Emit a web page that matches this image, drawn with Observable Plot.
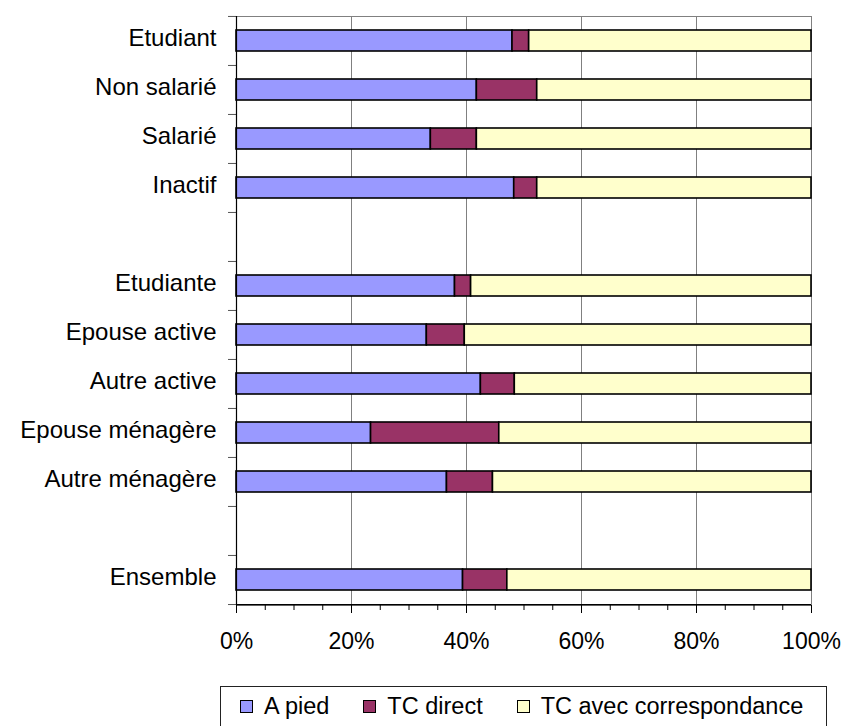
<!DOCTYPE html>
<html>
<head>
<meta charset="utf-8">
<script src="https://cdn.jsdelivr.net/npm/d3@7"></script>
<script src="https://cdn.jsdelivr.net/npm/@observablehq/plot@0.6"></script>
<style>
  html, body { margin: 0; padding: 0; background: #fff; overflow: hidden; }
  #wrap { position: relative; width: 843px; height: 726px; font-family: "Liberation Sans", Arial, sans-serif; }
  #legend {
    position: absolute; left: 220px; top: 686px; width: 607px; height: 50px;
    border: 1px solid #222; box-sizing: border-box; background: #fff;
    display: flex; flex-wrap: nowrap; align-items: center; padding-left: 19px; padding-bottom: 10px;
    font-size: 23.5px; line-height: 24px; color: #000; white-space: nowrap;
  }
  .item { display: flex; flex-shrink: 0; align-items: center; margin-right: 34px; white-space: nowrap; }
  .sw { width: 11px; height: 11px; border: 1px solid #000; margin-right: 11px; flex-shrink: 0; }
</style>
</head>
<body>
<div id="wrap">
  <div id="chart"></div>
  <div id="legend"></div>
</div>
<script>
// Categories (top to bottom); blank keys are visual gaps between groups
const categories = ["Etudiant", "Non salarié", "Salarié", "Inactif", "Etudiante", "Epouse active", "Autre active", "Epouse ménagère", "Autre ménagère", "Ensemble"];
const yOrder = ["Etudiant", "Non salarié", "Salarié", "Inactif", " ", "Etudiante", "Epouse active", "Autre active", "Epouse ménagère", "Autre ménagère", "  ", "Ensemble"];
const modes = ["A pied", "TC direct", "TC avec correspondance"];
const colors = ["#9999FF", "#993366", "#FFFFCC"];
// Shares (%) per category
const aPied    = [48.0, 41.8, 33.8, 48.3, 38.0, 33.1, 42.5, 23.4, 36.6, 39.4];
const tcDirect = [ 2.9, 10.5,  8.0,  4.0,  2.8,  6.6,  5.9, 22.3,  8.0,  7.7];
const tcCorr   = [49.1, 47.7, 58.2, 47.7, 59.2, 60.3, 51.6, 54.3, 55.4, 52.9];
const majorTicks = [0, 20, 40, 60, 80, 100];
const gridTicks = [20, 40, 60, 80, 100];
const minorTicks = [0, 5, 10, 15, 20, 25, 30, 35, 40, 45, 50, 55, 60, 65, 70, 75, 80, 85, 90, 95, 100];

const series = [aPied, tcDirect, tcCorr];
const rows = [];
categories.forEach((c, i) => {
  modes.forEach((m, j) => rows.push({cat: c, mode: m, value: series[j][i]}));
});

const W = 843, H = 670, mTop = 16, mBottom = 65, mLeft = 236, mRight = 32;
const step = (H - mTop - mBottom) / yOrder.length;

const chart = Plot.plot({
  width: W,
  height: H,
  marginTop: mTop,
  marginBottom: mBottom,
  marginLeft: mLeft,
  marginRight: mRight,
  style: {fontFamily: "'Liberation Sans', Arial, sans-serif", fontSize: "23px", background: "#fff", color: "#000"},
  x: {domain: [0, 100]},
  y: {domain: yOrder, paddingInner: 0.57, paddingOuter: 0.285},
  color: {domain: modes, range: colors},
  marks: [
    Plot.frame({stroke: "#808080"}),
    Plot.gridX({ticks: gridTicks, stroke: "#808080", strokeOpacity: 1}),
    Plot.barX(rows, Plot.stackX({x: "value", y: "cat", fill: "mode", stroke: "#000", strokeWidth: 1.6, order: null})),
    // y axis ticks at band boundaries
    Plot.axisY(yOrder, {tickSize: 8, tickFormat: () => "", label: null, dy: -step / 2, stroke: "#555"}),
    Plot.axisY(["Ensemble"], {tickSize: 8, tickFormat: () => "", label: null, dy: step / 2, stroke: "#555"}),
    // y labels
    Plot.axisY({tickSize: 0, tickPadding: 20, label: null, dy: -3, fill: "#000", fontSize: 24, style: "letter-spacing:0.3px"}),
    // x axis
    Plot.axisX({ticks: minorTicks, tickSize: 5, tickFormat: () => "", label: null, stroke: "#000"}),
    Plot.axisX({ticks: majorTicks, tickSize: 8, tickPadding: 19, tickFormat: d => d + "%", label: null, stroke: "#000", fill: "#000", fontSize: 23}),
    Plot.ruleX([0], {stroke: "#000", strokeWidth: 1.2}),
    Plot.ruleY(["Ensemble"], {y: d => d, x1: 0, x2: 100, dy: step / 2, stroke: "#000", strokeWidth: 1.2})
  ]
});
document.getElementById("chart").appendChild(chart);

const legend = document.getElementById("legend");
modes.forEach((m, i) => {
  const it = document.createElement("div");
  it.className = "item";
  const sw = document.createElement("span");
  sw.className = "sw";
  sw.style.background = colors[i];
  const t = document.createElement("span");
  t.textContent = m;
  it.appendChild(sw);
  it.appendChild(t);
  legend.appendChild(it);
});
</script>
</body>
</html>
